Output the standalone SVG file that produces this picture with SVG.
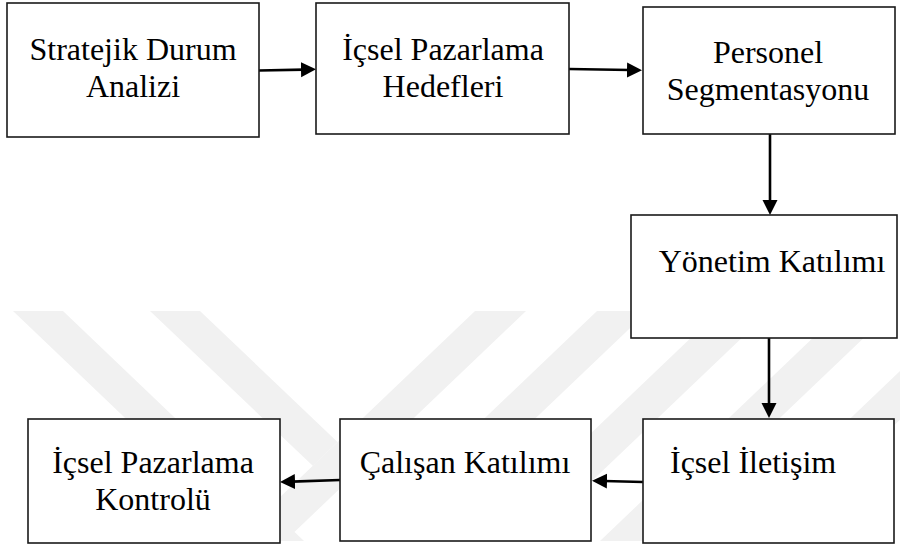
<svg xmlns="http://www.w3.org/2000/svg" width="900" height="546" viewBox="0 0 900 546">
<defs>
<style>
.box{fill:#fff;stroke:#1a1a1a;stroke-width:1.6}
.conn{stroke:#000;stroke-width:2.6;fill:none}
.wm{fill:#f1f1f1}
</style>
<marker id="ah" markerUnits="userSpaceOnUse" markerWidth="16" markerHeight="16" refX="3" refY="7.5" orient="auto">
<path d="M0,0 L15,7.5 L0,15 z" fill="#000"/>
</marker>
</defs>
<rect width="900" height="546" fill="#fff"/>
<g id="watermark">
<polygon class="wm" points="13,311 63,311 304,541 254,541"/>
<polygon class="wm" points="150,311 200,311 337.5,442 313,466"/>
<polygon class="wm" points="475,311 526,311 285,541 234,541"/>
<polygon class="wm" points="597,311 648,311 407,541 356,541"/>
<polygon class="wm" points="719,311 770,311 529,541 478,541"/>
<polygon class="wm" points="841,311 892,311 651,541 600,541"/>
<polygon class="wm" points="963,311 1014,311 773,541 722,541"/>
</g>
<g id="connectors">
<line class="conn" x1="259" y1="70.5" x2="304" y2="69.6" marker-end="url(#ah)"/>
<line class="conn" x1="569" y1="69" x2="630" y2="70" marker-end="url(#ah)"/>
<line class="conn" x1="770" y1="134" x2="770" y2="203" marker-end="url(#ah)"/>
<line class="conn" x1="769" y1="338" x2="769" y2="406" marker-end="url(#ah)"/>
<line class="conn" x1="643" y1="482" x2="604" y2="481" marker-end="url(#ah)"/>
<line class="conn" x1="340" y1="480" x2="292" y2="481.6" marker-end="url(#ah)"/>
</g>
<g id="n1">
<rect class="box" x="7" y="3" width="252" height="134"/>
<text x="133" y="60" font-family="Liberation Serif" font-size="32" text-anchor="middle">Stratejik Durum</text>
<text x="133" y="97" font-family="Liberation Serif" font-size="32" text-anchor="middle">Analizi</text>
</g>
<g id="n2">
<rect class="box" x="316" y="3" width="253" height="131"/>
<text x="443" y="60" font-family="Liberation Serif" font-size="32" text-anchor="middle">İçsel Pazarlama</text>
<text x="443" y="97" font-family="Liberation Serif" font-size="32" text-anchor="middle">Hedefleri</text>
</g>
<g id="n3">
<rect class="box" x="643" y="7" width="252" height="127"/>
<text x="768" y="63" font-family="Liberation Serif" font-size="32" text-anchor="middle">Personel</text>
<text x="768" y="100" font-family="Liberation Serif" font-size="32" text-anchor="middle">Segmentasyonu</text>
</g>
<g id="n4">
<rect class="box" x="631" y="215" width="266" height="123"/>
<text x="772" y="272" font-family="Liberation Serif" font-size="32" text-anchor="middle">Yönetim Katılımı</text>
</g>
<g id="n5">
<rect class="box" x="643" y="419" width="251" height="124"/>
<text x="670" y="473" font-family="Liberation Serif" font-size="32">İçsel İletişim</text>
</g>
<g id="n6">
<rect class="box" x="340" y="419" width="251" height="122"/>
<text x="465" y="473" font-family="Liberation Serif" font-size="32" text-anchor="middle">Çalışan Katılımı</text>
</g>
<g id="n7">
<rect class="box" x="28" y="419" width="252" height="124"/>
<text x="153" y="473" font-family="Liberation Serif" font-size="32" text-anchor="middle">İçsel Pazarlama</text>
<text x="153" y="510" font-family="Liberation Serif" font-size="32" text-anchor="middle">Kontrolü</text>
</g>
</svg>
